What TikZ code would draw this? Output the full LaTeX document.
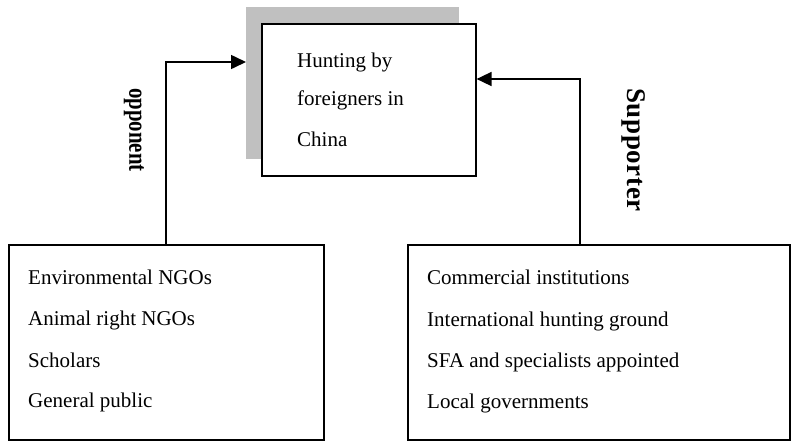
\documentclass[tikz,border=0pt]{standalone}
\usepackage{fontspec}
\setmainfont{Liberation Serif}
\usetikzlibrary{arrows.meta,calc}
\begin{document}
\begin{tikzpicture}[x=1pt,y=-1pt,
  box/.style={draw=black,line width=1.6pt,fill=white,inner sep=0pt,anchor=north west},
  txt/.style={anchor=base west,inner sep=0pt,font=\fontsize{21}{25}\selectfont},
  lbl/.style={inner sep=0pt,rotate=-90},
  arr/.style={line width=1.6pt,-{Triangle[length=15pt,width=14pt]}}]
\useasboundingbox (0,0) rectangle (791,440);
\fill[white] (0,0) rectangle (791,440);
% shadow and main box
\node[anchor=north west,fill={rgb,255:red,192;green,192;blue,192},minimum width=213pt,minimum height=152pt,inner sep=0pt] (shadow) at (246,7) {};
\node[box,minimum width=214pt,minimum height=152pt] (main) at (261,23) {};
\node[txt] (m1) at (297,67) {Hunting by};
\node[txt] (m2) at (297,105) {foreigners in};
\node[txt] (m3) at (297,146) {China};
% left box
\node[box,minimum width=315pt,minimum height=195pt] (lbox) at (8,244) {};
\node[txt] (l1) at (28,284) {Environmental NGOs};
\node[txt] (l2) at (28,325) {Animal right NGOs};
\node[txt] (l3) at (28,367) {Scholars};
\node[txt] (l4) at (28,407) {General public};
% right box
\node[box,minimum width=382pt,minimum height=195pt] (rbox) at (407,244) {};
\node[txt] (r1) at (427,284) {Commercial institutions};
\node[txt] (r2) at (427,326) {International hunting ground};
\node[txt] (r3) at (427,367) {SFA and specialists appointed};
\node[txt] (r4) at (427,408) {Local governments};
% labels
\node[lbl,font=\bfseries\fontsize{26}{30}\selectfont] (opp) at (134,130) {\scalebox{0.8}[1]{opponent}};
\node[lbl,font=\bfseries\fontsize{27}{31}\selectfont\addfontfeatures{LetterSpace=2.5}] (sup) at (634,150) {Supporter};
% connectors
\coordinate (la) at (166,62);
\coordinate (ra) at (580,79);
\draw[arr] (lbox.north -| la) |- (la -| shadow.west);
\draw[arr] (rbox.north -| ra) |- (ra -| main.east);
\end{tikzpicture}
\end{document}
